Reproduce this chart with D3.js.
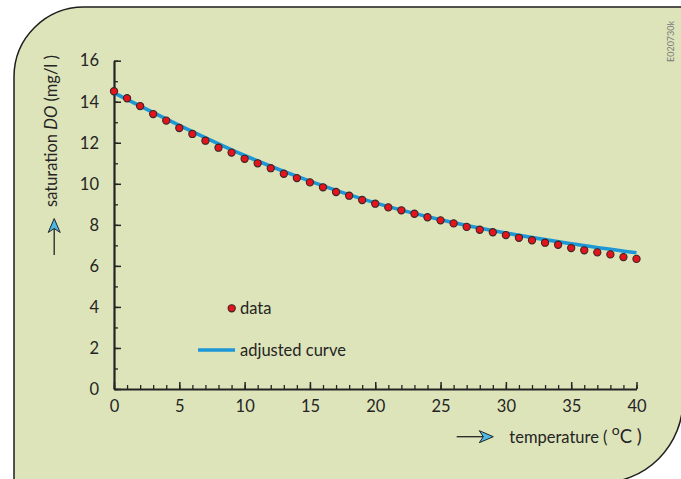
<!DOCTYPE html>
<html>
<head>
<meta charset="utf-8">
<script src="https://cdn.jsdelivr.net/npm/d3@7/dist/d3.min.js"></script>
<style>
  html, body { margin: 0; padding: 0; background: #ffffff; }
  svg { display: block; font-family: Lato, "Noto Sans", sans-serif; }
</style>
</head>
<body>
<svg id="chart" width="681" height="479"></svg>
<script>
// ---- data ----
const temps = [0,1,2,3,4,5,6,7,8,9,10,11,12,13,14,15,16,17,18,19,20,21,22,23,24,25,26,27,28,29,30,31,32,33,34,35,36,37,38,39,40];
const doData = [14.51,14.17,13.79,13.40,13.08,12.72,12.43,12.10,11.76,11.52,11.22,11.00,10.76,10.49,10.28,10.07,9.83,9.60,9.42,9.21,9.03,8.85,8.71,8.54,8.37,8.22,8.07,7.90,7.76,7.64,7.50,7.37,7.25,7.13,7.03,6.87,6.76,6.66,6.56,6.43,6.34];
const curveT = [0,5,10,15,20,25,30,35,40];
const curveV = [14.43,12.85,11.38,10.13,9.07,8.25,7.60,7.08,6.64];
const xTicks = [0,5,10,15,20,25,30,35,40];
const yTicks = [0,2,4,6,8,10,12,14,16];
const legendLabels = ["data", "adjusted curve"];
const yTitle = ["saturation ", "DO", " (mg/l )"];
const xTitle = ["temperature ( ", "o", "C )"];
const code = "E020730k";

// ---- drawing ----
const svg = d3.select("#chart");
const ink = "#242424";
const bg = "#dee4ba";
const red = "#e5141c";
const blue = "#1d97d5";
const arrowBlue = "#4cb8e8";

// panel
const L = 14, T = 7, R = 683, B = 483, r1 = 70, r2 = 83;
svg.append("path")
  .attr("d", `M${L},${B} L${L},${T + r1} A${r1},${r1} 0 0 1 ${L + r1},${T} L${R},${T} L${R},${B - r2} A${r2},${r2} 0 0 1 ${R - r2},${B} Z`)
  .attr("fill", bg).attr("stroke", "#1e1e1e").attr("stroke-width", 1.5);

const x = d3.scaleLinear().domain([0, 40]).range([114, 636.5]);
const y = d3.scaleLinear().domain([0, 16]).range([389, 60.7]);

// minor ticks
svg.append("g").attr("transform", `translate(0,${y(0)})`)
  .call(d3.axisBottom(x).tickValues(d3.range(0, 41, 1)).tickSizeInner(-4).tickSizeOuter(0).tickFormat(""))
  .call(g => g.select(".domain").remove())
  .call(g => g.selectAll("line").attr("stroke", ink).attr("stroke-width", 1.3));
svg.append("g").attr("transform", `translate(${x(0)},0)`)
  .call(d3.axisLeft(y).tickValues(d3.range(0, 17, 1)).tickSizeInner(-4).tickSizeOuter(0).tickFormat(""))
  .call(g => g.select(".domain").remove())
  .call(g => g.selectAll("line").attr("stroke", ink).attr("stroke-width", 1.3));

// major axes
const xAxis = svg.append("g").attr("transform", `translate(0,${y(0)})`)
  .call(d3.axisBottom(x).tickValues(xTicks).tickSizeInner(-7).tickSizeOuter(0).tickPadding(11));
const yAxis = svg.append("g").attr("transform", `translate(${x(0)},0)`)
  .call(d3.axisLeft(y).tickValues(yTicks).tickSizeInner(-7).tickSizeOuter(0).tickPadding(15));
[xAxis, yAxis].forEach(g => {
  g.select(".domain").attr("stroke", ink).attr("stroke-width", 2.2);
  g.selectAll(".tick line").attr("stroke", ink).attr("stroke-width", 1.5);
  g.selectAll(".tick text").attr("fill", ink).style("font-size", "16.5px").style("font-family", "Lato, sans-serif");
});

// fitted curve
const line = d3.line().x(d => x(d[0])).y(d => y(d[1])).curve(d3.curveMonotoneX);
svg.append("path").datum(curveT.map((t, i) => [t, curveV[i]]))
  .attr("d", line).attr("fill", "none").attr("stroke", blue).attr("stroke-width", 3.6);

// data points
svg.append("g").selectAll("circle").data(temps.map((t, i) => [t, doData[i]])).join("circle")
  .attr("cx", d => x(d[0])).attr("cy", d => y(d[1])).attr("r", 3.6)
  .attr("fill", red).attr("stroke", "#3a2626").attr("stroke-width", 1.1);

// legend
const lg = svg.append("g");
lg.append("circle").attr("cx", 231.7).attr("cy", 308.3).attr("r", 3.6)
  .attr("fill", red).attr("stroke", "#3a2626").attr("stroke-width", 1.1);
lg.append("text").attr("x", 240).attr("y", 313.5).text(legendLabels[0])
  .attr("fill", ink).style("font-size", "16.5px");
lg.append("line").attr("x1", 198).attr("x2", 235).attr("y1", 350).attr("y2", 350)
  .attr("stroke", blue).attr("stroke-width", 3.6);
lg.append("text").attr("x", 240).attr("y", 355.5).text(legendLabels[1])
  .attr("fill", ink).style("font-size", "16.5px");

// arrowhead helper (tip at 0,0 pointing +x)
const headPath = "M0,0 L-14,-6 L-10,0 L-14,6 Z";

// y title + arrow
const yt = svg.append("text").attr("transform", "translate(56.5,207) rotate(-90)")
  .attr("fill", ink).style("font-size", "16.5px");
yt.append("tspan").text(yTitle[0]);
yt.append("tspan").text(yTitle[1]).style("font-style", "italic");
yt.append("tspan").text(yTitle[2]);
svg.append("line").attr("x1", 54.2).attr("x2", 54.2).attr("y1", 255).attr("y2", 225)
  .attr("stroke", ink).attr("stroke-width", 1.3);
svg.append("path").attr("d", headPath).attr("transform", "translate(54.2,218.5) rotate(-90)")
  .attr("fill", arrowBlue).attr("stroke", ink).attr("stroke-width", 1).attr("stroke-linejoin", "round");

// x title + arrow
svg.append("line").attr("x1", 456.7).attr("x2", 486).attr("y1", 436.7).attr("y2", 436.7)
  .attr("stroke", ink).attr("stroke-width", 1.3);
svg.append("path").attr("d", headPath).attr("transform", "translate(493.3,436.7)")
  .attr("fill", arrowBlue).attr("stroke", ink).attr("stroke-width", 1).attr("stroke-linejoin", "round");
const xt = svg.append("text").attr("x", 509.3).attr("y", 443.3)
  .attr("fill", ink).style("font-size", "16.5px");
xt.append("tspan").text(xTitle[0]);
xt.append("tspan").text(xTitle[1]).attr("dy", -8).style("font-size", "14px");
xt.append("tspan").text(xTitle[2]).attr("dy", 8).style("font-size", "18.5px");

// code label
svg.append("text").attr("transform", "translate(673.5,62) rotate(-90)")
  .attr("fill", "#7a7a7a").style("font-size", "9px").text(code);
</script>
</body>
</html>
